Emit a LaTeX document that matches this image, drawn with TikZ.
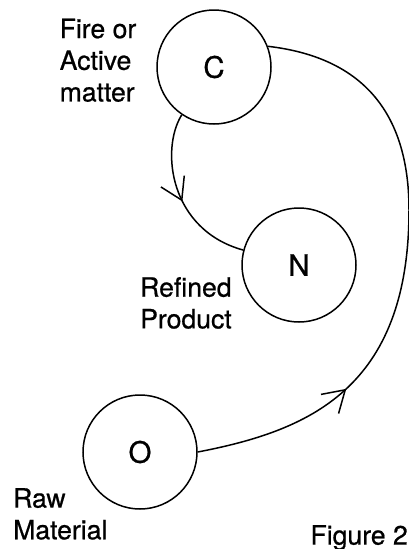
\documentclass[tikz,border=0pt]{standalone}
\usepackage{fontspec}
\setmainfont{TeX Gyre Heros}[FakeBold=0.7]
\usetikzlibrary{decorations.markings}
\begin{document}
\begin{tikzpicture}[x=1pt,y=-1pt,
  state/.style={circle,draw,line width=1.5pt,minimum size=114pt,inner sep=0pt,
    font=\fontsize{29.5}{29.5}\selectfont},
  lbl/.style={inner sep=0pt,align=left,
    font=\fontsize{26.6}{31.7}\selectfont},
  flow/.style={line width=1.5pt,postaction={decorate},
    decoration={markings,mark=at position #1 with {\draw[line width=1.5pt,line join=miter]
      (-21pt,13pt) -- (0pt,0pt) -- (-21pt,-13pt);}}}]
\useasboundingbox (0,0) rectangle (409,549);
\node[state] (C) at (214,67) {C};
\node[state] (N) at (299,265) {N};
\node[state] (O) at (140,452) {O};
\node[lbl,anchor=north west] (lc) at (59.5,18.5) {Fire or\\Active\\matter};
\node[lbl,anchor=north west] (ln) at (140,277) {Refined\\Product};
\node[lbl,anchor=north west] (lo) at (13,488) {Raw\\Material};
\node[lbl,anchor=north east] (fig) at (408,525) {Figure 2};
\coordinate (R) at (409,210);
\draw[flow=0.52] (C.236) .. controls (160,150) and (170,230) .. (N.165);
\draw[flow=0.27] (O.east) .. controls (307,431) and (409,390) .. (R)
  .. controls (409,110) and (360,57) .. (C.21);
\end{tikzpicture}
\end{document}
